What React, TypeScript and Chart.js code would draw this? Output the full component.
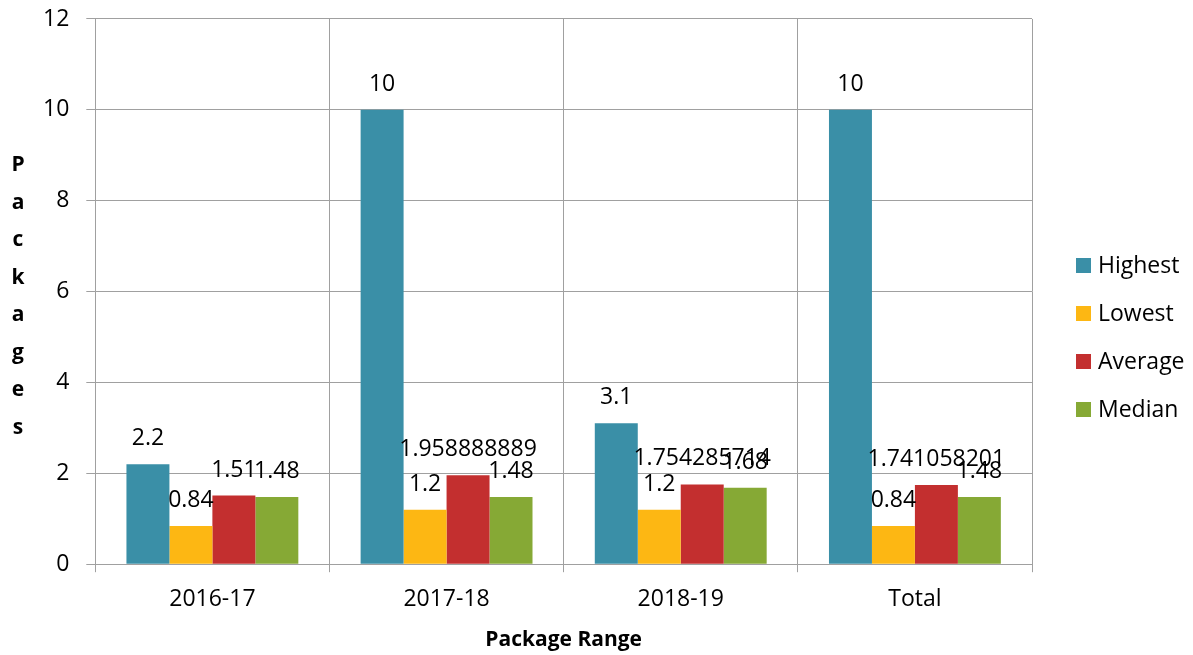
import React, { useEffect, useRef } from "react";
import { Chart, registerables } from "chart.js";

Chart.register(...registerables);

const categories = ["2016-17", "2017-18", "2018-19", "Total"];
const highest = [2.2, 10, 3.1, 10];
const lowest = [0.84, 1.2, 1.2, 0.84];
const average = [1.51, 1.958888889, 1.754285714, 1.741058201];
const median = [1.48, 1.48, 1.68, 1.48];
const seriesNames = ["Highest", "Lowest", "Average", "Median"];
const seriesColors = ["#3A8FA7", "#FDB713", "#C32F2F", "#86A935"];
const yTicks = [0, 2, 4, 6, 8, 10, 12];
const xTitle = "Package Range";
const yTitle = "Packages";

const FONT = '"Open Sans", "Liberation Sans", sans-serif';
const GRID = "#a0a0a0";

const valueLabels = {
  id: "valueLabels",
  afterDatasetsDraw(chart: any) {
    const ctx = chart.ctx;
    ctx.save();
    ctx.font = `23px ${FONT}`;
    ctx.fillStyle = "#000";
    ctx.textAlign = "center";
    ctx.textBaseline = "alphabetic";
    chart.data.datasets.forEach((ds: any, i: number) => {
      const meta = chart.getDatasetMeta(i);
      meta.data.forEach((bar: any, j: number) => {
        ctx.fillText(String(ds.data[j]), bar.x, bar.y - 19);
      });
    });
    ctx.restore();
  },
};

const sideTexts = {
  id: "sideTexts",
  afterDraw(chart: any) {
    const ctx = chart.ctx;
    const area = chart.chartArea;
    ctx.save();
    // stacked y-axis title
    ctx.font = `bold 21px ${FONT}`;
    ctx.fillStyle = "#000";
    ctx.textAlign = "center";
    ctx.textBaseline = "alphabetic";
    const letters = yTitle.split("");
    letters.forEach((ch, i) => {
      ctx.fillText(ch, 18, 171 + i * 37.5);
    });
    // legend
    ctx.font = `23px ${FONT}`;
    ctx.textAlign = "left";
    ctx.textBaseline = "middle";
    const bx = area.right + 44;
    chart.data.datasets.forEach((ds: any, i: number) => {
      const cy = 265.5 + i * 48;
      ctx.fillStyle = ds.backgroundColor;
      ctx.fillRect(bx, cy - 7.5, 15, 15);
      ctx.fillStyle = "#000";
      ctx.fillText(ds.label, bx + 22, cy + 1);
    });
    ctx.restore();
  },
};

export default function App() {
  const ref = useRef<HTMLCanvasElement | null>(null);
  useEffect(() => {
    let chart: Chart | null = null;
    let cancelled = false;
    const make = () => {
      if (cancelled || !ref.current) return;
      const seriesData = [highest, lowest, average, median];
      chart = new Chart(ref.current, {
        type: "bar",
        data: {
          labels: categories,
          datasets: seriesNames.map((name, i) => ({
            label: name,
            data: seriesData[i],
            backgroundColor: seriesColors[i],
            borderWidth: 0,
            categoryPercentage: 0.734,
            barPercentage: 1,
          })),
        },
        options: {
          responsive: false,
          animation: false,
          devicePixelRatio: 1,
          layout: { padding: { left: 26, right: 161, top: 7, bottom: 2 } },
          plugins: {
            legend: { display: false },
            tooltip: { enabled: false },
            title: { display: false },
          },
          scales: {
            x: {
              grid: { color: GRID, tickLength: 8, offset: true },
              border: { color: GRID },
              ticks: { color: "#000", font: { family: FONT, size: 23 }, padding: 13 },
              title: {
                display: true,
                text: xTitle,
                color: "#000",
                font: { family: FONT, size: 21, weight: "bold" },
                padding: { top: 2, bottom: 0 },
              },
            },
            y: {
              min: 0,
              max: 12,
              afterBuildTicks: (axis: any) => {
                axis.ticks = yTicks.map((v) => ({ value: v }));
              },
              grid: { color: GRID, tickLength: 9 },
              border: { color: GRID },
              ticks: {
                color: "#000",
                font: { family: FONT, size: 23, lineHeight: 0.17 },
                padding: 17,
              },
            },
          },
        },
        plugins: [valueLabels, sideTexts],
      });
    };
    const fonts: any = (document as any).fonts;
    if (fonts && fonts.load) {
      Promise.all([
        fonts.load(`23px "Open Sans"`),
        fonts.load(`bold 21px "Open Sans"`),
      ]).then(make, make);
    } else make();
    return () => {
      cancelled = true;
      if (chart) chart.destroy();
    };
  }, []);
  return (
    <div style={{ position: "fixed", left: 0, top: 0, width: 1193, height: 655, background: "#fff" }}>
      <canvas ref={ref} width={1193} height={655} style={{ display: "block" }} />
    </div>
  );
}
